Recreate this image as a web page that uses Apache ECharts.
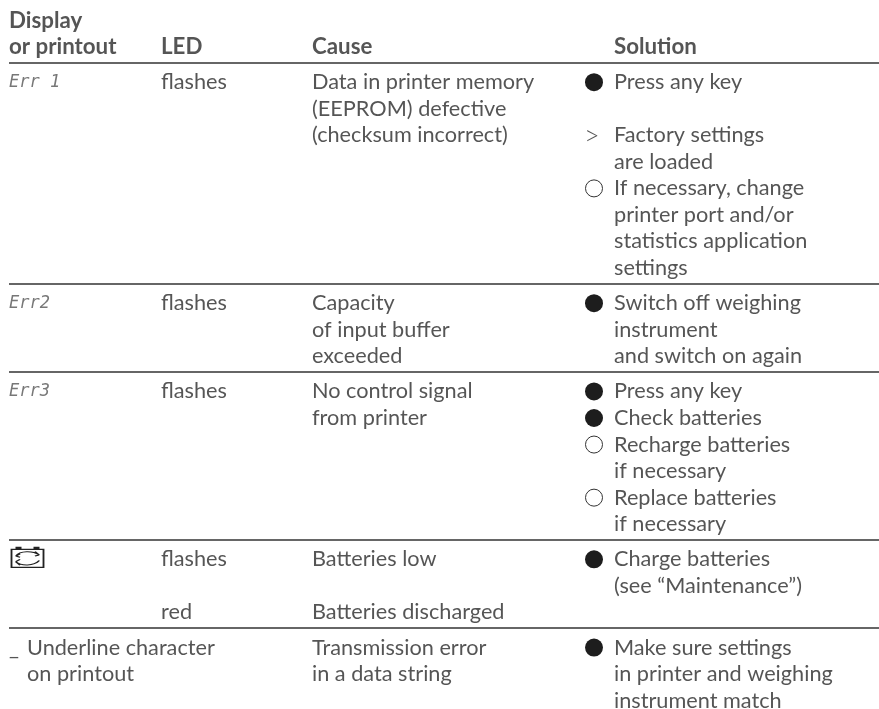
<!DOCTYPE html>
<html><head><meta charset="utf-8"><style>html,body{margin:0;background:#fff}#c{width:879px;height:709px}</style>
<script src="https://cdn.jsdelivr.net/npm/echarts@6/dist/echarts.min.js"></script></head>
<body><div id="c"></div><script>
// Table content
const headerDisplay = ['Display', 'or printout'];
const headerLed = ['', 'LED'];
const headerCause = ['', 'Cause'];
const headerSolution = ['', 'Solution'];
const rowLineCounts = [8, 3, 6, 3, 3];
const displayCol = [['Err 1'], ['Err2'], ['Err3'], [''], ['_', 'on printout']];
const displayExtra = ['Underline character'];
const ledCol = [['flashes'], ['flashes'], ['flashes'], ['flashes', '', 'red'], []];
const causeCol = [
  ['Data in printer memory', '(EEPROM) defective', '(checksum incorrect)'],
  ['Capacity', 'of input buffer', 'exceeded'],
  ['No control signal', 'from printer'],
  ['Batteries low', '', 'Batteries discharged'],
  ['Transmission error', 'in a data string']
];
// marker: f = filled bullet, o = open bullet, > = result arrow, '' = continuation
const solutionMarks = [
  ['f', '', '>', '', 'o', '', '', ''],
  ['f', '', ''],
  ['f', 'f', 'o', '', 'o', ''],
  ['f', ''],
  ['f', '', '']
];
const solutionCol = [
  ['Press any key', '', 'Factory settings', 'are loaded', 'If necessary, change', 'printer port and/or', 'statistics application', 'settings'],
  ['Switch off weighing', 'instrument', 'and switch on again'],
  ['Press any key', 'Check batteries', 'Recharge batteries', 'if necessary', 'Replace batteries', 'if necessary'],
  ['Charge batteries', '(see “Maintenance”)'],
  ['Make sure settings', 'in printer and weighing', 'instrument match']
];

// Layout
const FONT = 'Lato';
const X = {display: 9, led: 161, cause: 312, mark: 594, solution: 614, indent: 27, right: 879};
const PITCH = 26.55, RULE0 = 62.7, GAP = 8.6, FIRST = 19.5;
const FS = 21.7;

const texts = [], filled = [], open = [], arrows = [], rules = [], segText = [];
[headerDisplay, headerLed, headerCause].forEach((col, i) => {
  const xs = [X.display, X.led, X.cause][i];
  col.forEach((t, k) => { if (t) texts.push({value: [xs, 20.5 + k * PITCH], t, bold: true}); });
});
texts.push({value: [X.solution, 20.5 + PITCH], t: headerSolution[1], bold: true});

let ruleY = RULE0;
rowLineCounts.forEach((n, r) => {
  rules.push(ruleY);
  const y0 = ruleY + FIRST;
  const lineY = k => y0 + k * PITCH;
  if (r < 3) segText.push({value: [X.display, lineY(0)], t: displayCol[r][0]});
  if (r === 4) {
    texts.push({value: [X.display, lineY(0)], t: '_'});
    texts.push({value: [X.indent, lineY(0)], t: displayExtra[0]});
    texts.push({value: [X.indent, lineY(1)], t: displayCol[r][1]});
  }
  ledCol[r].forEach((t, k) => { if (t) texts.push({value: [X.led, lineY(k)], t}); });
  causeCol[r].forEach((t, k) => { if (t) texts.push({value: [X.cause, lineY(k)], t}); });
  solutionCol[r].forEach((t, k) => { if (t) texts.push({value: [X.solution, lineY(k)], t}); });
  solutionMarks[r].forEach((m, k) => {
    if (m === 'f') filled.push([X.mark, lineY(k)]);
    if (m === 'o') open.push([X.mark, lineY(k)]);
    if (m === '>') arrows.push({value: [X.mark - 10, lineY(k) + 1], t: '>'});
  });
  ruleY += n * PITCH + GAP;
});
const batteryPos = [[X.display + 18.5, rules[3] + 18.5]];
const terminalPos = [[X.display + 18.5, rules[3] + 8.5]];
const ruleSegs = rules.map(y => ({coords: [[X.display, y], [X.right, y]]}));

const label = (bold) => ({show: true, position: 'right', distance: 0, color: '#2b2b2b',
  fontFamily: FONT, fontSize: bold ? 22.3 : FS, fontWeight: bold ? 700 : 400,
  formatter: p => p.data.t});
const BATTERY = 'path://M1 4H31V20H1Z M5 10C9 5 21 5 27 9M27 9L23 6M27 9L23 10 M27 14C22 19 10 19 5 15M5 15L9 18M5 15L9 13 M5 10L9 8M5 10L9 11';
const TERMINALS = 'path://M0 0H6V3H0Z M18 0H24V3H18Z';

echarts.init(document.getElementById('c')).setOption({
  animation: false,
  grid: {left: 0, right: 0, top: 0, bottom: 0},
  xAxis: {type: 'value', min: 0, max: 879, show: false},
  yAxis: {type: 'value', min: 0, max: 709, inverse: true, show: false},
  series: [
    {type: 'lines', coordinateSystem: 'cartesian2d', polyline: false, data: ruleSegs,
      lineStyle: {color: '#666', width: 1.8, opacity: 1}, silent: true},
    {type: 'scatter', symbolSize: 0, data: texts.filter(d => !d.bold), label: label(false)},
    {type: 'scatter', symbolSize: 0, data: texts.filter(d => d.bold), label: label(true)},
    {type: 'scatter', symbolSize: 0, data: arrows, label: Object.assign(label(false), {fontSize: 27, fontWeight: 300})},
    {type: 'scatter', symbolSize: 0, data: segText, label: Object.assign(label(false), {
      fontFamily: 'DejaVu Sans Mono', fontStyle: 'italic', fontSize: 17, color: '#555', fontWeight: 200})},
    {type: 'scatter', symbol: 'circle', symbolSize: 18, data: filled, itemStyle: {color: '#1d1d1d', opacity: 1}},
    {type: 'scatter', symbol: 'circle', symbolSize: 17, data: open,
      itemStyle: {color: '#fff', borderColor: '#333', borderWidth: 1, opacity: 1}},
    {type: 'scatter', symbol: BATTERY, symbolSize: [32, 18], data: batteryPos,
      itemStyle: {color: 'rgba(0,0,0,0)', borderColor: '#222', borderWidth: 1.4, opacity: 1}},
    {type: 'scatter', symbol: TERMINALS, symbolSize: [24, 3], data: terminalPos,
      itemStyle: {color: '#222', opacity: 1}}
  ]
});
</script></body></html>
